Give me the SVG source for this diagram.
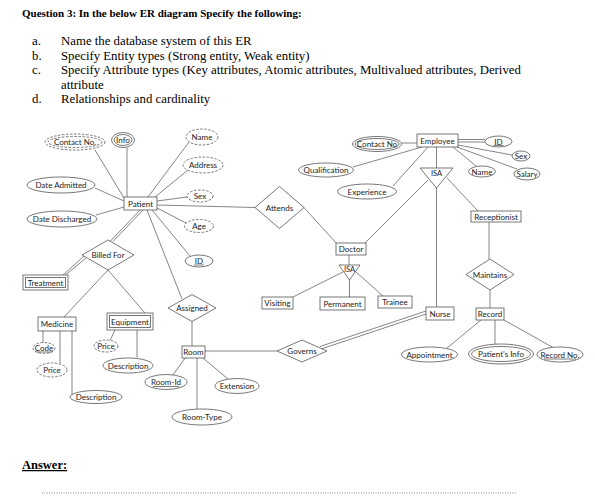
<svg xmlns="http://www.w3.org/2000/svg" width="595" height="500" viewBox="0 0 595 500">
<style>
.hd{font-family:"Liberation Serif","Times New Roman",serif;font-size:12.8px;fill:#000}
.ti{font-size:11px;font-weight:bold}
.an{font-size:12.5px;font-weight:bold}
.t{font-family:Lato,"Liberation Sans",sans-serif;font-size:8px;fill:#222;text-anchor:middle}
.s{font-size:7.5px}
.e{fill:#fff;stroke:#555;stroke-width:0.8}
.d{stroke-dasharray:2.5,1.5}
.r{fill:#fff;stroke:#555;stroke-width:0.8}
.dm{fill:#fff;stroke:#555;stroke-width:0.8}
.c line{stroke:#666;stroke-width:0.8}
.u{stroke:#222;stroke-width:0.6}
</style>
<rect width="595" height="500" fill="#fff"/>
<text class="hd ti" x="22" y="17">Question 3: In the below ER diagram Specify the following:</text>
<text class="hd" x="32" y="45">a.</text><text class="hd" x="61" y="45">Name the database system of this ER</text>
<text class="hd" x="32" y="59.5">b.</text><text class="hd" x="61" y="59.5">Specify Entity types (Strong entity, Weak entity)</text>
<text class="hd" x="32" y="74">c.</text><text class="hd" x="61" y="74">Specify Attribute types (Key attributes, Atomic attributes, Multivalued attributes, Derived</text>
<text class="hd" x="61" y="88.5">attribute</text>
<text class="hd" x="32" y="103">d.</text><text class="hd" x="61" y="103">Relationships and cardinality</text>
<text class="hd an" x="22" y="469" text-decoration="underline">Answer:</text>
<line x1="42" y1="493" x2="516" y2="493" stroke="#444" stroke-width="0.8" stroke-dasharray="0.8,1.6"/>

<g id="connectors" class="c">
<line x1="95" y1="150" x2="124" y2="198"/>
<line x1="127" y1="147.5" x2="127" y2="197"/>
<line x1="95" y1="188" x2="124" y2="201"/>
<line x1="96" y1="215" x2="124" y2="207"/>
<line x1="148" y1="197" x2="189" y2="142"/>
<line x1="155" y1="197" x2="188" y2="170"/>
<line x1="157" y1="201" x2="187" y2="197"/>
<line x1="157" y1="205" x2="255" y2="207.5"/>
<line x1="157" y1="208" x2="186" y2="223"/>
<line x1="152" y1="210" x2="190" y2="256"/>
<line x1="147" y1="210" x2="182" y2="299"/>
<line x1="141" y1="209" x2="110.5" y2="241"/>
<line x1="143.5" y1="209.5" x2="113" y2="241.5"/>
<line x1="84" y1="256" x2="63" y2="275"/>
<line x1="86" y1="258" x2="65.5" y2="275"/>
<line x1="108" y1="270" x2="64" y2="317"/>
<line x1="108" y1="270" x2="145" y2="313"/>
<line x1="43" y1="331" x2="43" y2="342.5"/>
<line x1="60" y1="331" x2="60" y2="363.5"/>
<line x1="72" y1="331" x2="72" y2="395"/>
<line x1="115" y1="330" x2="110" y2="340.5"/>
<line x1="137" y1="330" x2="137" y2="357.5"/>
<line x1="192" y1="321.5" x2="192" y2="346"/>
<line x1="185" y1="358" x2="173" y2="375"/>
<line x1="197" y1="358" x2="197" y2="409"/>
<line x1="203" y1="358" x2="228" y2="379"/>
<line x1="205" y1="351" x2="277" y2="351"/>
<line x1="320" y1="346.5" x2="426" y2="311"/>
<line x1="321" y1="349" x2="426" y2="314"/>
<line x1="303.5" y1="207" x2="337" y2="244"/>
<line x1="349" y1="255" x2="349" y2="265"/>
<line x1="343" y1="272" x2="293" y2="297"/>
<line x1="349.5" y1="280" x2="349.5" y2="297"/>
<line x1="356" y1="272" x2="383" y2="296"/>
<line x1="401.5" y1="143" x2="417" y2="143"/>
<line x1="353" y1="167" x2="422" y2="147"/>
<line x1="393" y1="186" x2="428" y2="147"/>
<line x1="458" y1="139.5" x2="485" y2="139.5"/>
<line x1="458" y1="142" x2="485" y2="142"/>
<line x1="458" y1="145" x2="512" y2="155"/>
<line x1="457" y1="147" x2="517" y2="169"/>
<line x1="453" y1="147" x2="476" y2="166"/>
<line x1="436.5" y1="147" x2="436.5" y2="168"/>
<line x1="428" y1="180" x2="365" y2="243"/>
<line x1="447" y1="178" x2="478" y2="211"/>
<line x1="436.5" y1="188" x2="436.5" y2="307"/>
<line x1="489" y1="222" x2="489" y2="259"/>
<line x1="490" y1="290" x2="490" y2="308"/>
<line x1="481" y1="320" x2="447" y2="348"/>
<line x1="495" y1="320" x2="495" y2="344"/>
<line x1="504" y1="320" x2="553" y2="347.5"/>
</g>

<g id="patient"><rect class="r" x="124" y="197" width="33" height="13"/><text class="t" x="140.5" y="206.5">Patient</text></g>
<g id="contact-no-patient"><ellipse class="e d" cx="75" cy="142" rx="30" ry="8"/><ellipse class="e d" cx="75" cy="142" rx="27" ry="5.5"/><text class="t" x="75" y="145">Contact No.</text></g>
<g id="info"><ellipse class="e" cx="123" cy="140" rx="11.5" ry="7.5"/><ellipse class="e" cx="123" cy="140" rx="9" ry="5.5"/><text class="t" x="123" y="143">Info</text></g>
<g id="name-patient"><ellipse class="e d" cx="202" cy="137" rx="16" ry="8"/><text class="t" x="202" y="140">Name</text></g>
<g id="address"><ellipse class="e d" cx="203" cy="165" rx="20" ry="8"/><text class="t" x="203" y="168">Address</text></g>
<g id="sex-patient"><ellipse class="e d" cx="200" cy="196" rx="13" ry="6"/><text class="t" x="200" y="199">Sex</text></g>
<g id="age"><ellipse class="e d" cx="199" cy="226" rx="14.5" ry="6.5"/><text class="t" x="199" y="229">Age</text></g>
<g id="id-patient"><ellipse class="e" cx="199" cy="261" rx="14" ry="6"/><text class="t" x="199" y="264">ID</text><line class="u" x1="194" y1="265" x2="204" y2="265"/></g>
<g id="date-admitted"><ellipse class="e" cx="61" cy="185" rx="34" ry="8"/><text class="t" x="61" y="188">Date Admitted</text></g>
<g id="date-discharged"><ellipse class="e" cx="62" cy="219" rx="35" ry="8"/><text class="t" x="62" y="222">Date Discharged</text></g>

<g id="billed-for"><polygon class="dm" points="82,255 108,240 134,255 108,270"/><text class="t" x="108" y="258">Billed For</text></g>
<g id="treatment"><rect class="r" x="23" y="275" width="45" height="15"/><rect class="r" x="25.5" y="277.5" width="40" height="10"/><text class="t" x="45.5" y="285.5">Treatment</text></g>
<g id="medicine"><rect class="r" x="38" y="317" width="38" height="14"/><text class="t" x="57" y="327">Medicine</text></g>
<g id="equipment"><rect class="r" x="107" y="313" width="46" height="17"/><rect class="r" x="109.5" y="315.5" width="41" height="12"/><text class="t" x="130" y="324.5">Equipment</text></g>
<g id="code"><ellipse class="e d" cx="44" cy="348" rx="11" ry="5.5"/><text class="t" x="44" y="351">Code</text><line class="u" x1="36.5" y1="352" x2="51.5" y2="352"/></g>
<g id="price-medicine"><ellipse class="e d" cx="52" cy="370" rx="15" ry="7"/><text class="t" x="52" y="373">Price</text></g>
<g id="description-medicine"><ellipse class="e" cx="96" cy="397" rx="26" ry="6.5"/><text class="t" x="96" y="400">Description</text></g>
<g id="price-equipment"><ellipse class="e d" cx="106" cy="346" rx="12" ry="6"/><text class="t" x="106" y="349">Price</text></g>
<g id="description-equipment"><ellipse class="e" cx="128" cy="365.5" rx="25" ry="7.5"/><text class="t" x="128" y="368.5">Description</text></g>

<g id="assigned"><polygon class="dm" points="168,308 192,294.5 216,308 192,321.5"/><text class="t" x="192" y="311">Assigned</text></g>
<g id="room"><rect class="r" x="182" y="346" width="23" height="12"/><text class="t" x="193.5" y="355">Room</text></g>
<g id="room-id"><ellipse class="e" cx="166" cy="382" rx="21" ry="7.5"/><text class="t" x="166" y="385">Room-Id</text><line class="u" x1="153" y1="386.5" x2="179" y2="386.5"/></g>
<g id="room-type"><ellipse class="e" cx="202" cy="417" rx="30" ry="8"/><text class="t" x="202" y="420">Room-Type</text></g>
<g id="extension"><ellipse class="e" cx="237" cy="386" rx="22" ry="7.5"/><text class="t" x="237" y="389">Extension</text></g>
<g id="governs"><polygon class="dm" points="277,351 302,340 327,351 302,362"/><text class="t" x="302" y="354">Governs</text></g>

<g id="attends"><polygon class="dm" points="255,207.5 279.5,186.5 304,207.5 279.5,228.5"/><text class="t" x="279.5" y="210.5">Attends</text></g>
<g id="doctor"><rect class="r" x="336" y="243" width="30" height="12"/><text class="t" x="351" y="252">Doctor</text></g>
<g id="isa-doctor"><polygon class="dm" points="339,265 360,265 349.5,280"/><text class="t s" x="349.5" y="272">ISA</text></g>
<g id="visiting"><rect class="r" x="262" y="297" width="31" height="12"/><text class="t" x="277.5" y="306">Visiting</text></g>
<g id="permanent"><rect class="r" x="320" y="297" width="45" height="13"/><text class="t" x="342.5" y="306.5">Permanent</text></g>
<g id="trainee"><rect class="r" x="378" y="296" width="34" height="12"/><text class="t" x="395" y="305">Trainee</text></g>

<g id="employee"><rect class="r" x="417" y="134" width="41" height="13"/><text class="t" x="437.5" y="143.5">Employee</text></g>
<g id="contact-no-employee"><ellipse class="e" cx="377" cy="144" rx="24.5" ry="7.5"/><ellipse class="e" cx="377" cy="144" rx="22" ry="5.5"/><text class="t" x="377" y="147">Contact No</text></g>
<g id="qualification"><ellipse class="e" cx="326" cy="170" rx="27.5" ry="7"/><text class="t" x="326" y="173">Qualification</text></g>
<g id="experience"><ellipse class="e" cx="367" cy="191.5" rx="29.5" ry="7.5"/><text class="t" x="367" y="194.5">Experience</text></g>
<g id="id-employee"><ellipse class="e" cx="498.5" cy="141.5" rx="13.5" ry="5.5"/><text class="t" x="498.5" y="144.5">ID</text><line class="u" x1="493.5" y1="145.5" x2="503.5" y2="145.5"/></g>
<g id="sex-employee"><ellipse class="e" cx="521" cy="156" rx="9" ry="5"/><text class="t" x="521" y="159">Sex</text></g>
<g id="salary"><ellipse class="e" cx="527" cy="174" rx="13" ry="6"/><text class="t" x="527" y="177">Salary</text></g>
<g id="name-employee"><ellipse class="e" cx="482" cy="171.5" rx="13.5" ry="5.5"/><text class="t" x="482" y="174.5">Name</text></g>
<g id="isa-employee"><polygon class="dm" points="420,168 453,168 436.5,188"/><text class="t s" x="436.5" y="176">ISA</text></g>
<g id="receptionist"><rect class="r" x="471" y="211" width="50" height="11"/><text class="t" x="496" y="219.5">Receptionist</text></g>
<g id="maintains"><polygon class="dm" points="466,274.5 490,259 514,274.5 490,290"/><text class="t" x="490" y="277.5">Maintains</text></g>
<g id="nurse"><rect class="r" x="426" y="307" width="28" height="13"/><text class="t" x="440" y="316.5">Nurse</text></g>
<g id="record"><rect class="r" x="476" y="308" width="28" height="12"/><text class="t" x="490" y="317">Record</text></g>
<g id="appointment"><ellipse class="e" cx="429.5" cy="354.5" rx="28" ry="7.5"/><text class="t" x="429.5" y="357.5">Appointment</text></g>
<g id="patients-info"><ellipse class="e" cx="501" cy="354" rx="32.5" ry="10"/><ellipse class="e" cx="501" cy="354" rx="29.5" ry="7.5"/><text class="t" x="501" y="357">Patient's Info</text></g>
<g id="record-no"><ellipse class="e" cx="560" cy="354.5" rx="23" ry="7.5"/><text class="t" x="560" y="357.5">Record No.</text><line class="u" x1="544" y1="359" x2="576" y2="359"/></g>
</svg>
